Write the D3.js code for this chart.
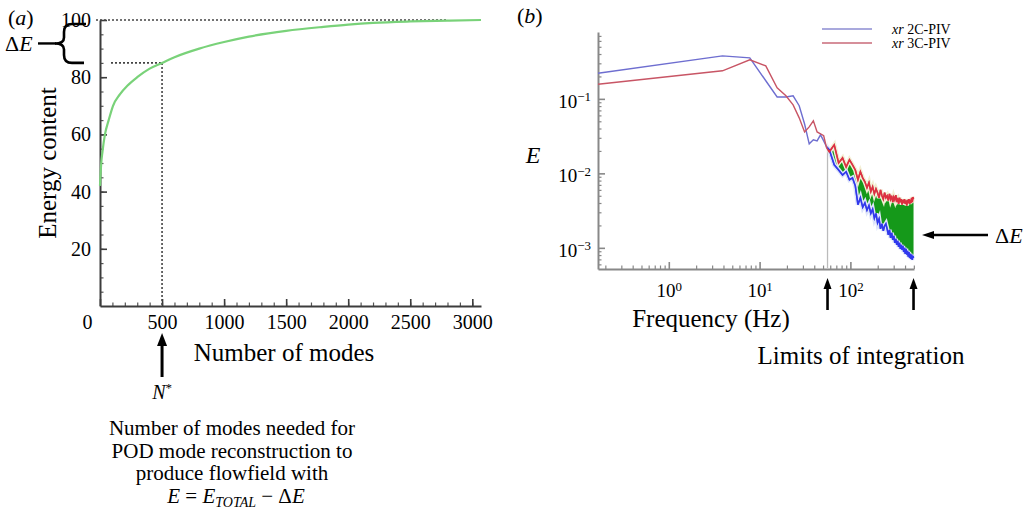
<!DOCTYPE html>
<html>
<head>
<meta charset="utf-8">
<script src="https://cdn.jsdelivr.net/npm/d3@7"></script>
<style>
  body { margin: 0; background: #fff; }
  svg { display: block; font-family: "Liberation Serif", "Times New Roman", serif; }
</style>
</head>
<body>
<svg id="fig" width="1034" height="517"></svg>
<script>
// ---------- panel (a): cumulative POD energy ----------
const modeCounts    = [0, 10, 20, 40, 70, 105, 160, 220, 300, 400, 500, 600, 800, 1000, 1200, 1500, 1800, 2000, 2200, 2500, 2800, 3070];
const energyContent = [42, 50, 54, 60, 65, 70, 74, 77, 80, 83, 85, 87, 90, 92.3, 94.2, 96.2, 97.6, 98.4, 99.0, 99.5, 99.8, 100];
const modeTicks   = [0, 500, 1000, 1500, 2000, 2500, 3000];
const energyTicks = [20, 40, 60, 80, 100];
const nStar = 500;          // modes needed
const eStar = 85;           // energy reached with nStar modes
const eTotal = 100;

// ---------- panel (b): energy spectra ----------
const freqHz = [0.166, 3.9, 7.8, 11.7, 15.6, 19.5, 23.4, 27.3, 31.3, 35.2, 39.1, 43.0, 46.9, 50.8, 54.7, 58.6,
  66.4, 74.2, 82.0, 89.8, 97.7, 105.5, 113.3, 121.1, 128.9, 136.7, 144.5, 152.3, 160.2, 168.0, 175.8, 183.6,
  191.4, 199.2, 207.0, 214.8, 222.7, 230.5, 238.3, 246.1, 253.9, 261.7, 269.5, 277.3, 285.2, 293.0, 300.8,
  308.6, 316.4, 324.2, 332.0, 339.8, 347.7, 355.5, 363.3, 371.1, 378.9, 386.7, 394.5, 402.3, 410.2, 418.0,
  425.8, 433.6, 441.4, 449.2, 457.0, 464.8, 472.7, 480.5, 488.3, 496.1];
const spec2C = [0.221, 0.378, 0.355, 0.175, 0.106, 0.106, 0.110, 0.081, 0.046, 0.0249, 0.0282, 0.0273, 0.0329, 0.0273, 0.0227, 0.0207,
  0.0130, 0.0111, 0.0095, 0.0105, 0.0082, 0.0087, 0.0068, 0.0038, 0.0047, 0.0035, 0.0040, 0.0032, 0.0037, 0.0029, 0.0033, 0.0025,
  0.0029, 0.00217, 0.00245, 0.00180, 0.00210, 0.00169, 0.00197, 0.00210, 0.00180, 0.00149, 0.00174, 0.00136, 0.00159, 0.00128, 0.00145,
  0.00117, 0.00132, 0.00110, 0.00124, 0.00103, 0.00117, 0.00097, 0.00110, 0.00094, 0.00106, 0.00088, 0.00100, 0.00083, 0.00097, 0.00081,
  0.00091, 0.00076, 0.00088, 0.00073, 0.00083, 0.00071, 0.00081, 0.00069, 0.00078, 0.00073];
const spec3C = [0.157, 0.238, 0.334, 0.277, 0.141, 0.110, 0.083, 0.0556, 0.036, 0.042, 0.0507, 0.036, 0.034, 0.032, 0.022, 0.0195,
  0.0241, 0.0138, 0.0161, 0.0122, 0.0152, 0.0130, 0.0111, 0.0082, 0.0105, 0.0087, 0.0077, 0.0064, 0.0075, 0.0057, 0.0066, 0.0053,
  0.0062, 0.0055, 0.0047, 0.0060, 0.0050, 0.0045, 0.0055, 0.0047, 0.0050, 0.0043, 0.0053, 0.0045, 0.0050, 0.0041, 0.0048,
  0.0044, 0.0051, 0.0043, 0.0045, 0.0039, 0.0047, 0.0041, 0.0045, 0.0038, 0.0044, 0.0040, 0.0045, 0.0039, 0.0043, 0.0037,
  0.0044, 0.0040, 0.0045, 0.0039, 0.0044, 0.0040, 0.0047, 0.0041, 0.0048, 0.0045];
const seriesNames = ["2C-PIV", "3C-PIV"];
const freqTicks = [1, 10, 100];
const specTicks = [1e-3, 1e-2, 1e-1];
const integrationLimits = [56, 496.1];

const FONT = '"Liberation Serif", "Times New Roman", serif';
const svg = d3.select("#fig");
svg.append("rect").attr("width", 1034).attr("height", 517).attr("fill", "#fff");

function styleAxis(g, color) {
  g.attr("font-family", FONT);
  g.select(".domain").attr("stroke", color).attr("stroke-width", 2);
  g.selectAll(".tick line").attr("stroke", color).attr("stroke-width", 1.6);
  g.selectAll(".tick text").attr("fill", "#000").attr("font-family", FONT);
}

function arrow(x1, y1, x2, y2, w, headLen, headW) {
  const a = Math.atan2(y2 - y1, x2 - x1);
  const bx = x2 - headLen * Math.cos(a), by = y2 - headLen * Math.sin(a);
  svg.append("line").attr("x1", x1).attr("y1", y1).attr("x2", bx).attr("y2", by)
    .attr("stroke", "#000").attr("stroke-width", w);
  const px = -Math.sin(a) * headW / 2, py = Math.cos(a) * headW / 2;
  svg.append("path")
    .attr("d", `M${x2},${y2}L${bx + px},${by + py}L${bx - px},${by - py}Z`)
    .attr("fill", "#000");
}

// ================= panel (a) =================
const xA = d3.scaleLinear().domain([0, 3070]).range([100, 481]);
const yA = d3.scaleLinear().domain([0, 100]).range([306, 20]);

// minor ticks
svg.append("g").attr("transform", "translate(0,306)")
  .call(d3.axisBottom(xA).tickValues(d3.range(100, 3001, 100)).tickSizeInner(-3.5).tickSizeOuter(0).tickFormat(""))
  .call(g => { g.select(".domain").remove(); g.selectAll("line").attr("stroke", "#555").attr("stroke-width", 1.2); });
svg.append("g").attr("transform", "translate(100,0)")
  .call(d3.axisLeft(yA).tickValues(d3.range(5, 100, 5)).tickSizeInner(-3.5).tickSizeOuter(0).tickFormat(""))
  .call(g => { g.select(".domain").remove(); g.selectAll("line").attr("stroke", "#555").attr("stroke-width", 1.2); });

const gxA = svg.append("g").attr("transform", "translate(0,306)")
  .call(d3.axisBottom(xA).tickValues(modeTicks).tickSizeInner(-7).tickSizeOuter(0).tickPadding(9).tickFormat(d3.format("d")));
styleAxis(gxA, "#3c3c3c");
gxA.selectAll(".tick text").attr("font-size", 20).filter(d => d === 0).attr("dx", -13);

const gyA = svg.append("g").attr("transform", "translate(100,0)")
  .call(d3.axisLeft(yA).tickValues(energyTicks).tickSizeInner(-7).tickSizeOuter(0).tickPadding(9));
styleAxis(gyA, "#3c3c3c");
gyA.selectAll(".tick text").attr("font-size", 20);

// dotted guides
const dotted = (x1, y1, x2, y2) => svg.append("line")
  .attr("x1", x1).attr("y1", y1).attr("x2", x2).attr("y2", y2)
  .attr("stroke", "#444").attr("stroke-width", 1.6).attr("stroke-dasharray", "2,2");
dotted(96, yA(eTotal), xA(2800), yA(eTotal));
dotted(111, yA(eStar), xA(nStar), yA(eStar));
dotted(xA(nStar), yA(eStar), xA(nStar), yA(0));

// energy curve
const energyData = modeCounts.map((n, i) => ({ n, e: energyContent[i] }));
svg.append("path").datum(energyData)
  .attr("fill", "none").attr("stroke", "#79d279").attr("stroke-width", 2.2)
  .attr("d", d3.line().x(d => xA(d.n)).y(d => yA(d.e)).curve(d3.curveMonotoneX));

// brace marking ΔE
const bTop = yA(eTotal) + 4, bBot = yA(eStar), bMid = (bTop + bBot) / 2;
svg.append("path")
  .attr("d", `M86,${bTop} L72,${bTop} Q64,${bTop} 64,${bTop + 8} L64,${bMid - 6} Q64,${bMid} 55,${bMid}` +
             ` Q64,${bMid} 64,${bMid + 6} L64,${bBot - 8} Q64,${bBot} 72,${bBot} L84,${bBot}`)
  .attr("fill", "none").attr("stroke", "#000").attr("stroke-width", 2.6);
svg.append("line").attr("x1", 38).attr("y1", bMid).attr("x2", 56).attr("y2", bMid)
  .attr("stroke", "#000").attr("stroke-width", 2.4);
svg.append("text").attr("x", 5).attr("y", bMid + 8).attr("font-size", 22)
  .call(t => { t.append("tspan").text("Δ"); t.append("tspan").attr("font-style", "italic").text("E"); });

// panel label and axis titles
svg.append("text").attr("x", 8).attr("y", 25).attr("font-size", 22)
  .call(t => { t.append("tspan").text("("); t.append("tspan").attr("font-style", "italic").text("a"); t.append("tspan").text(")"); });
svg.append("text").attr("transform", "translate(56,163) rotate(-90)").attr("text-anchor", "middle")
  .attr("font-size", 25).text("Energy content");
svg.append("text").attr("x", 284).attr("y", 361).attr("text-anchor", "middle")
  .attr("font-size", 25).text("Number of modes");

arrow(xA(nStar), 377, xA(nStar), 333, 3, 13, 10);
svg.append("text").attr("x", xA(nStar)).attr("y", 399).attr("text-anchor", "middle").attr("font-size", 20)
  .call(t => { t.append("tspan").attr("font-style", "italic").text("N"); t.append("tspan").attr("dy", -7).attr("font-size", 13).text("*"); });

const noteLines = ["Number of modes needed for", "POD mode reconstruction to", "produce flowfield with"];
noteLines.forEach((s, i) => svg.append("text").attr("x", 232).attr("y", 435 + i * 22.6)
  .attr("text-anchor", "middle").attr("font-size", 21).text(s));
svg.append("text").attr("x", 236).attr("y", 503).attr("text-anchor", "middle").attr("font-size", 21)
  .call(t => {
    t.append("tspan").attr("font-style", "italic").text("E");
    t.append("tspan").text(" = ");
    t.append("tspan").attr("font-style", "italic").text("E");
    t.append("tspan").attr("font-style", "italic").attr("font-size", 14).attr("dy", 4).text("TOTAL");
    t.append("tspan").attr("dy", -4).text(" − Δ");
    t.append("tspan").attr("font-style", "italic").text("E");
  });

// ================= panel (b) =================
const xB = d3.scaleLog().domain([0.166, 502]).range([598, 914]);
const yB = d3.scaleLog().domain([5.2e-4, 0.79]).range([269, 32]);

const minorX = xB.ticks().filter(v => !freqTicks.includes(v));
const minorY = yB.ticks().filter(v => !specTicks.some(t => Math.abs(t - v) / t < 1e-6));
svg.append("g").attr("transform", "translate(0,269)")
  .call(d3.axisBottom(xB).tickValues(minorX).tickSizeInner(-3.5).tickSizeOuter(0).tickFormat(""))
  .call(g => { g.select(".domain").remove(); g.selectAll("line").attr("stroke", "#888").attr("stroke-width", 1.2); });
svg.append("g").attr("transform", "translate(598,0)")
  .call(d3.axisLeft(yB).tickValues(minorY).tickSizeInner(-3.5).tickSizeOuter(0).tickFormat(""))
  .call(g => { g.select(".domain").remove(); g.selectAll("line").attr("stroke", "#888").attr("stroke-width", 1.2); });

function powerLabel(sel) {
  sel.each(function (d) {
    const t = d3.select(this).text(null);
    const ex = Math.round(Math.log10(d));
    t.append("tspan").text("10");
    t.append("tspan").attr("dy", "-0.5em").attr("font-size", "0.68em").text(ex < 0 ? "−" + (-ex) : String(ex));
  });
}
const gxB = svg.append("g").attr("transform", "translate(0,269)")
  .call(d3.axisBottom(xB).tickValues(freqTicks).tickSizeInner(-7).tickSizeOuter(0).tickPadding(15));
styleAxis(gxB, "#888");
gxB.selectAll(".tick text").attr("font-size", 19).call(powerLabel);

const gyB = svg.append("g").attr("transform", "translate(598,0)")
  .call(d3.axisLeft(yB).tickValues(specTicks).tickSizeInner(-7).tickSizeOuter(0).tickPadding(7));
styleAxis(gyB, "#888");
gyB.selectAll(".tick text").attr("font-size", 19).attr("dy", "0.45em").call(powerLabel);

const specData = freqHz.map((f, i) => ({ f, lo: spec2C[i], hi: spec3C[i] }));

// integration range clip
const defs = svg.append("defs");
defs.append("clipPath").attr("id", "intRange").append("rect")
  .attr("x", xB(integrationLimits[0])).attr("y", 0)
  .attr("width", xB(integrationLimits[1]) - xB(integrationLimits[0]) + 1).attr("height", 269);

// lower limit marker
const iLo = d3.bisector(d => d.f).left(specData, integrationLimits[0]);
const p0 = specData[iLo - 1], p1 = specData[iLo];
const tLim = (Math.log(integrationLimits[0]) - Math.log(p0.f)) / (Math.log(p1.f) - Math.log(p0.f));
const limTop = Math.exp(Math.log(Math.max(p0.hi, p0.lo)) * (1 - tLim) + Math.log(Math.max(p1.hi, p1.lo)) * tLim);
svg.append("line").attr("x1", xB(integrationLimits[0])).attr("x2", xB(integrationLimits[0]))
  .attr("y1", yB(limTop)).attr("y2", 268).attr("stroke", "#bbb").attr("stroke-width", 1.3);

// ΔE band between the two spectra
svg.append("path").datum(specData).attr("clip-path", "url(#intRange)")
  .attr("fill", "#15991a")
  .attr("d", d3.area().x(d => xB(d.f)).y0(d => yB(d.lo)).y1(d => yB(d.hi)));

const line2C = d3.line().x(d => xB(d.f)).y(d => yB(d.lo));
const line3C = d3.line().x(d => xB(d.f)).y(d => yB(d.hi));
// pale halos around the noisy high-frequency part
svg.append("path").datum(specData).attr("clip-path", "url(#intRange)")
  .attr("fill", "none").attr("stroke", "#f2efd4").attr("stroke-width", 4.5).attr("d", line3C);
svg.append("path").datum(specData).attr("clip-path", "url(#intRange)")
  .attr("fill", "none").attr("stroke", "#dde4fa").attr("stroke-width", 4.5).attr("d", line2C);

svg.append("path").datum(specData).attr("fill", "none")
  .attr("stroke", "#6e6ed0").attr("stroke-width", 1.4).attr("d", line2C);
svg.append("path").datum(specData).attr("fill", "none")
  .attr("stroke", "#c85565").attr("stroke-width", 1.4).attr("d", line3C);
// saturated overlay in the integration range
svg.append("path").datum(specData).attr("clip-path", "url(#intRange)").attr("fill", "none")
  .attr("stroke", "#3038ee").attr("stroke-width", 1.6).attr("d", line2C);
svg.append("path").datum(specData).attr("clip-path", "url(#intRange)").attr("fill", "none")
  .attr("stroke", "#dd3040").attr("stroke-width", 1.6).attr("d", line3C);

// legend
const legendColors = ["#8c8cd2", "#c86a78"];
seriesNames.forEach((name, i) => {
  const y = 29 + i * 14;
  svg.append("line").attr("x1", 822).attr("x2", 872).attr("y1", y).attr("y2", y)
    .attr("stroke", legendColors[i]).attr("stroke-width", 1.5);
  svg.append("text").attr("x", 892).attr("y", y + 4.5).attr("font-size", 14)
    .call(t => { t.append("tspan").attr("font-style", "italic").text("xr"); t.append("tspan").text(" " + name); });
});

// labels
svg.append("text").attr("x", 517).attr("y", 23).attr("font-size", 22)
  .call(t => { t.append("tspan").text("("); t.append("tspan").attr("font-style", "italic").text("b"); t.append("tspan").text(")"); });
svg.append("text").attr("x", 533).attr("y", 163).attr("text-anchor", "middle").attr("font-size", 24)
  .attr("font-style", "italic").text("E");
svg.append("text").attr("x", 711).attr("y", 327).attr("text-anchor", "middle").attr("font-size", 25).text("Frequency (Hz)");
svg.append("text").attr("x", 861).attr("y", 364).attr("text-anchor", "middle").attr("font-size", 25).text("Limits of integration");

integrationLimits.forEach(f => arrow(xB(f), 310, xB(f), 278, 2.6, 11, 8));
arrow(988, 235, 922, 235, 2.6, 12, 8);
svg.append("text").attr("x", 995).attr("y", 243).attr("font-size", 22)
  .call(t => { t.append("tspan").text("Δ"); t.append("tspan").attr("font-style", "italic").text("E"); });

svg.selectAll("text").attr("font-family", FONT);
</script>
</body>
</html>
